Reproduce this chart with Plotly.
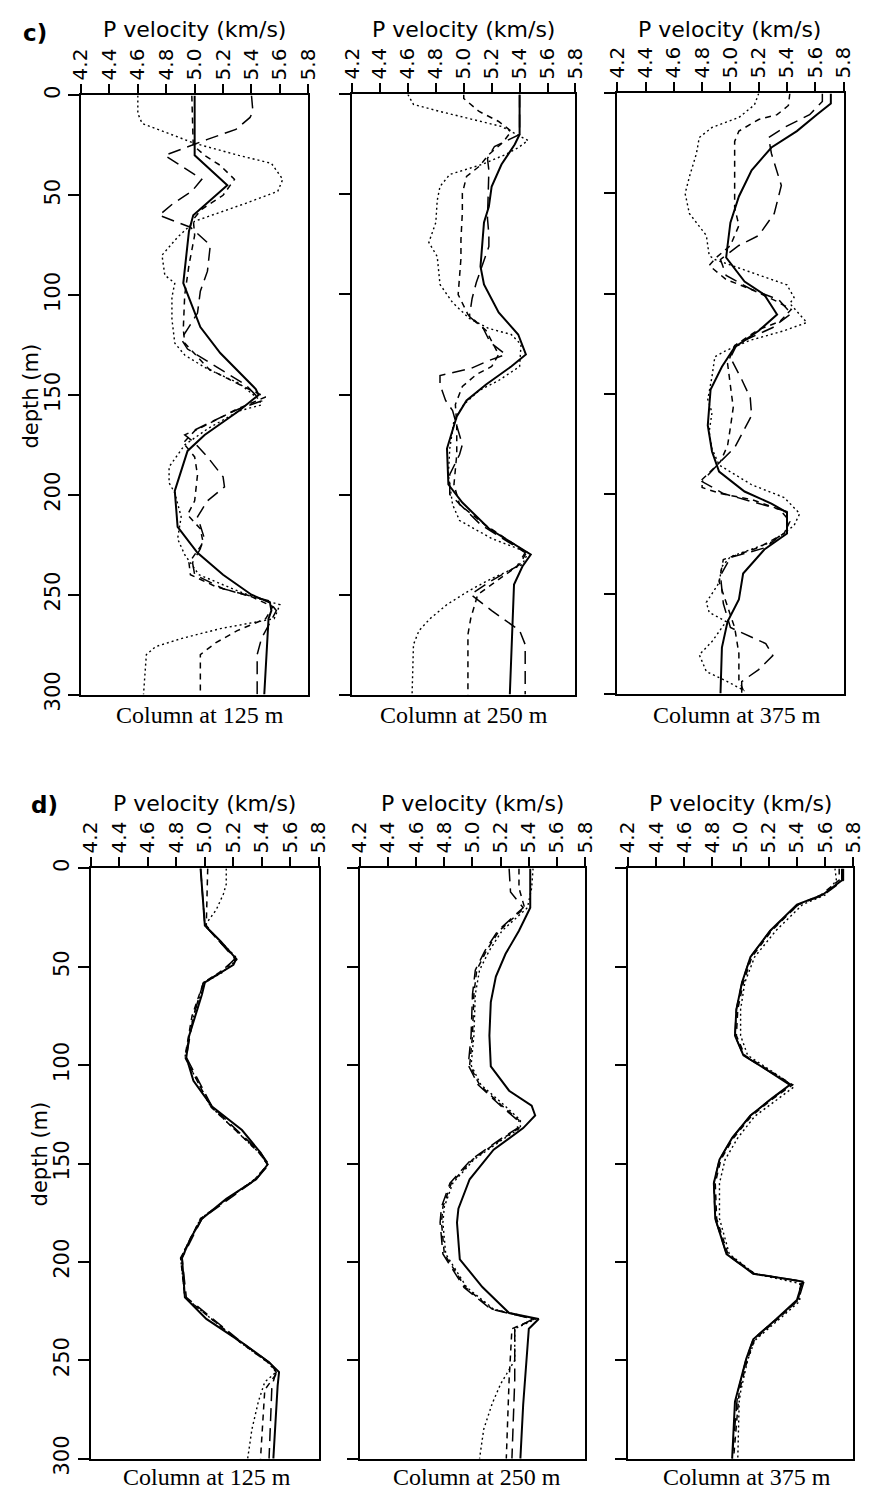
import plotly.graph_objects as go

W, H = 875, 1511

# ---------------- DATA (depth in m, P velocity in km/s) ----------------
vel_ticks = [4.2, 4.4, 4.6, 4.8, 5.0, 5.2, 5.4, 5.6, 5.8]
vel_tick_labels = ["4.2", "4.4", "4.6", "4.8", "5.0", "5.2", "5.4", "5.6", "5.8"]
depth_ticks = [0, 50, 100, 150, 200, 250, 300]
depth_tick_labels = ["0", "50", "100", "150", "200", "250", "300"]
column_labels = ["Column at 125 m", "Column at 250 m", "Column at 375 m"]
row_labels = ["c)", "d)"]

# ---- c) column 125 m
c125_solid_d = [0, 30, 45, 60, 68, 94, 116, 129, 147, 150, 158, 170, 178, 198, 216, 229, 240, 250, 254, 258, 262, 300]
c125_solid_v = [5.0, 5.0, 5.23, 4.99, 4.96, 4.92, 5.04, 5.18, 5.43, 5.45, 5.31, 5.07, 4.95, 4.86, 4.88, 5.02, 5.20, 5.40, 5.53, 5.54, 5.52, 5.49]
c125_dot_d = [0, 9, 14, 19, 24, 30, 34, 42, 48, 54, 63, 71, 80, 90, 94, 101, 112, 124, 130, 137, 144, 152, 155, 158, 167, 175, 186, 194, 199, 211, 222, 230, 240, 248, 252, 255, 262, 267, 272, 276, 280, 300]
c125_dot_v = [4.6, 4.6, 4.63, 4.82, 5.0, 5.31, 5.54, 5.62, 5.585, 5.36, 5.0, 4.88, 4.77, 4.79, 4.86, 4.84, 4.84, 4.86, 4.93, 5.09, 5.31, 5.45, 5.47, 5.31, 5.09, 4.93, 4.82, 4.82, 4.86, 4.905, 4.88, 4.93, 5.03, 5.3, 5.45, 5.6, 5.56, 5.18, 4.905, 4.725, 4.66, 4.64]
c125_dash_d = [0, 25, 30, 35, 42, 50, 57, 62, 70, 85, 100, 117, 124, 137, 146, 151, 157, 168, 174, 181, 190, 203, 210, 217, 224, 234, 240, 246, 251, 256, 262, 268, 274, 280, 300]
c125_dash_v = [4.98, 4.99, 5.07, 5.18, 5.28, 5.2, 5.05, 4.99, 5.0, 4.96, 4.93, 4.92, 4.93, 5.1, 5.35, 5.5, 5.3, 5.0, 4.92, 5.0, 5.02, 5.0, 4.95, 5.04, 5.06, 4.96, 4.97, 5.15, 5.4, 5.55, 5.5, 5.3, 5.15, 5.04, 5.04]
c125_long_d = [0, 8, 11, 17, 22, 27, 30, 35, 42, 48, 54, 60, 66, 75, 88, 98, 109, 117, 122, 127, 135, 145, 153, 157, 163, 170, 174, 181, 191, 196, 203, 211, 221, 227, 234, 240, 247, 253, 258, 265, 272, 280, 300]
c125_long_v = [5.4, 5.41, 5.39, 5.29, 5.09, 4.905, 4.79, 4.9, 5.05, 4.98, 4.85, 4.75, 4.97, 5.11, 5.09, 5.04, 5.02, 4.95, 4.905, 4.95, 5.13, 5.36, 5.47, 5.31, 5.13, 4.93, 5.0, 5.09, 5.2, 5.21, 5.09, 5.02, 5.065, 5.04, 4.985, 5.0, 5.2, 5.52, 5.575, 5.52, 5.47, 5.44, 5.44]

# ---- c) column 250 m
c250_solid_d = [0, 20, 25, 35, 46, 56, 64, 76, 86, 95, 109, 120, 130, 136, 145, 153, 161, 177, 195, 204, 217, 230, 236, 245, 300]
c250_solid_v = [5.4, 5.4, 5.365, 5.27, 5.2, 5.18, 5.145, 5.13, 5.12, 5.145, 5.25, 5.39, 5.445, 5.34, 5.16, 5.02, 4.95, 4.88, 4.89, 4.99, 5.18, 5.48, 5.42, 5.36, 5.33]
c250_dot_d = [0, 5, 8.5, 12.6, 16, 23, 26.6, 30, 35, 40, 46, 53, 64, 74, 81, 95, 104, 112, 117, 120, 125, 136, 143, 148, 155, 163, 177, 190, 205, 213, 222, 229, 235, 242, 248, 255, 262, 268, 275, 300]
c250_dot_v = [4.6, 4.64, 4.83, 5.06, 5.27, 5.46, 5.39, 5.3, 5.13, 4.9, 4.83, 4.81, 4.8, 4.75, 4.81, 4.83, 4.92, 5.04, 5.18, 5.34, 5.41, 5.4, 5.25, 5.11, 5.0, 4.93, 4.9, 4.89, 4.92, 4.97, 5.2, 5.46, 5.42, 5.2, 5.04, 4.88, 4.76, 4.68, 4.64, 4.63]
c250_dash_d = [0, 2, 8.5, 13.5, 18.4, 24, 30, 36, 41, 49.5, 59, 72.5, 82, 100, 110, 118, 130, 136, 140, 146, 155, 165, 180, 195, 205, 215, 229, 235, 240, 250, 262, 270, 300]
c250_dash_v = [5.0, 5.0, 5.11, 5.25, 5.34, 5.28, 5.18, 5.11, 5.02, 4.99, 4.99, 4.98, 4.98, 4.96, 5.03, 5.16, 5.25, 5.2, 5.09, 4.99, 4.94, 4.95, 4.95, 4.93, 4.97, 5.15, 5.45, 5.4, 5.3, 5.1, 5.05, 5.03, 5.03]
c250_long_d = [0, 15, 20, 26, 32, 38, 55, 62, 70, 76, 94, 102, 111, 117, 124, 130, 133, 137, 140.5, 145, 153, 158, 168, 175, 180, 190, 200, 215, 229, 236, 243, 250, 258, 268, 275, 300]
c250_long_v = [5.4, 5.4, 5.4, 5.22, 5.17, 5.18, 5.17, 5.17, 5.18, 5.18, 5.09, 5.06, 5.04, 5.14, 5.19, 5.3, 5.18, 5.05, 4.83, 4.83, 4.87, 4.92, 4.96, 4.99, 4.97, 4.9, 4.9, 5.12, 5.44, 5.38, 5.2, 5.05, 5.2, 5.4, 5.44, 5.44]

# ---- c) column 375 m
c375_solid_d = [0, 5, 10.6, 18.8, 27, 38.4, 51.5, 64.6, 76, 82, 94, 100.6, 110.5, 118.6, 126.8, 136.6, 148, 166, 179, 189, 199, 205, 209.5, 220, 228, 240, 253, 264, 277, 300]
c375_solid_v = [5.71, 5.71, 5.61, 5.47, 5.29, 5.15, 5.06, 5.0, 4.98, 4.97, 5.1, 5.24, 5.33, 5.2, 5.03, 4.94, 4.86, 4.84, 4.87, 4.92, 5.1, 5.29, 5.4, 5.4, 5.24, 5.09, 5.06, 4.98, 4.94, 4.93]
c375_dot_d = [0, 5.7, 12, 17, 22, 30, 41.7, 50, 60, 71, 81, 83, 89, 95.7, 102, 105, 114.5, 118.6, 123.6, 128.5, 131.6, 141.5, 153, 159.5, 169, 177.6, 185.7, 195.6, 202, 210, 216, 224, 231.6, 236.5, 244.6, 254.4, 259.4, 264, 274, 280.6, 289, 293.7, 298.6]
c375_dot_v = [5.2, 5.17, 5.06, 4.87, 4.78, 4.76, 4.71, 4.68, 4.71, 4.83, 4.85, 4.89, 5.13, 5.4, 5.45, 5.42, 5.54, 5.38, 5.13, 4.97, 4.89, 4.87, 4.84, 4.87, 4.85, 4.87, 4.92, 5.15, 5.38, 5.49, 5.45, 5.3, 5.0, 4.94, 4.92, 4.83, 4.85, 4.97, 4.87, 4.78, 4.83, 4.97, 5.1]
c375_dash_d = [0, 6, 10.6, 13, 18.8, 24, 43, 57, 66, 76, 82, 86, 93, 98, 104, 108, 114, 118, 126, 135, 146, 157, 167, 176, 184, 193, 197, 200, 203, 208, 214, 220, 227, 233, 244, 254, 267, 280, 293, 300]
c375_dash_v = [5.42, 5.41, 5.33, 5.2, 5.06, 5.03, 5.03, 5.03, 5.06, 5.0, 4.9, 4.85, 4.97, 5.15, 5.33, 5.43, 5.35, 5.2, 5.03, 4.98, 5.0, 5.02, 5.0, 4.98, 4.93, 4.8, 4.8, 4.93, 5.15, 5.35, 5.42, 5.38, 5.2, 4.95, 4.92, 4.97, 5.03, 5.06, 5.06, 5.1]
c375_long_d = [0, 4, 10.6, 17, 22, 30, 46, 60, 71, 76, 83, 91, 98, 103, 110, 117, 125, 132, 143, 152, 161, 168, 177, 184, 194, 200, 205, 209, 218, 227, 232, 241, 255, 267, 275, 281, 288, 294, 300]
c375_long_v = [5.65, 5.65, 5.56, 5.38, 5.27, 5.29, 5.36, 5.31, 5.2, 5.06, 4.93, 4.97, 5.15, 5.34, 5.43, 5.3, 5.05, 5.0, 5.08, 5.14, 5.15, 5.1, 5.03, 4.93, 4.8, 4.95, 5.2, 5.4, 5.4, 5.25, 5.0, 4.93, 4.95, 5.0, 5.25, 5.3, 5.2, 5.08, 5.08]

# ---- d) column 125 m
d125_solid_d = [0, 29, 37, 46, 49, 53, 58, 64, 75, 85, 96, 108, 121, 133, 144.5, 150.5, 158, 168, 178, 188, 198, 218, 229, 241, 251, 256, 263, 300]
d125_solid_v = [4.97, 5.0, 5.11, 5.22, 5.2, 5.11, 5.0, 4.98, 4.93, 4.89, 4.87, 4.92, 5.05, 5.26, 5.39, 5.44, 5.36, 5.15, 4.98, 4.9, 4.84, 4.86, 5.01, 5.26, 5.45, 5.52, 5.51, 5.48]
d125_dot_d = [0, 8, 13, 21, 29, 37, 46, 53, 58, 75, 96, 121, 144.5, 150.5, 158, 178, 198, 218, 241, 251, 256, 261, 271, 285, 300]
d125_dot_v = [5.15, 5.15, 5.13, 5.08, 5.0, 5.11, 5.23, 5.12, 5.0, 4.92, 4.86, 5.04, 5.38, 5.44, 5.35, 4.97, 4.83, 4.86, 5.25, 5.44, 5.5, 5.42, 5.375, 5.33, 5.3]
d125_dash_d = [0, 29, 37, 46, 53, 58, 75, 96, 121, 144.5, 150.5, 158, 178, 198, 218, 241, 251, 256, 265, 300]
d125_dash_v = [5.02, 5.01, 5.1, 5.22, 5.1, 4.99, 4.91, 4.86, 5.04, 5.38, 5.44, 5.35, 4.97, 4.83, 4.86, 5.25, 5.44, 5.51, 5.42, 5.39]
d125_long_d = [0, 29, 37, 46, 53, 58, 75, 96, 121, 144.5, 150.5, 158, 178, 198, 218, 241, 251, 256, 263, 300]
d125_long_v = [4.97, 5.0, 5.1, 5.21, 5.11, 4.99, 4.92, 4.87, 5.05, 5.39, 5.45, 5.36, 4.98, 4.84, 4.87, 5.26, 5.45, 5.5, 5.47, 5.45]

# ---- d) column 250 m
d250_solid_d = [0, 20, 31.7, 43.4, 55, 68, 85, 100.6, 113, 120.6, 125.6, 132, 143, 158, 173, 180, 198.7, 212.8, 226, 229, 234, 272.5, 300]
d250_solid_v = [5.41, 5.41, 5.33, 5.235, 5.166, 5.13, 5.12, 5.13, 5.26, 5.42, 5.445, 5.36, 5.15, 4.98, 4.9, 4.89, 4.91, 5.07, 5.26, 5.47, 5.4, 5.36, 5.34]
d250_dot_d = [0, 10, 20, 31.7, 41.7, 51.7, 64, 85, 100, 110, 120, 128, 132, 138, 148, 160, 172, 180, 196, 213, 224, 229, 234, 250, 262, 272, 285, 300]
d250_dot_v = [5.43, 5.42, 5.39, 5.21, 5.12, 5.05, 5.02, 5.01, 4.99, 5.06, 5.22, 5.34, 5.34, 5.21, 5.01, 4.86, 4.8, 4.79, 4.81, 4.96, 5.15, 5.45, 5.3, 5.3, 5.2, 5.14, 5.08, 5.05]
d250_dash_d = [0, 10, 20, 31.7, 41.7, 51.7, 64, 85, 100, 110, 120, 128, 132, 138, 148, 160, 172, 180, 196, 213, 224, 229, 234, 260, 300]
d250_dash_v = [5.33, 5.33, 5.37, 5.19, 5.1, 5.03, 5.01, 5.0, 4.98, 5.05, 5.2, 5.33, 5.33, 5.2, 5.0, 4.85, 4.79, 4.78, 4.8, 4.95, 5.14, 5.44, 5.28, 5.26, 5.24]
d250_long_d = [0, 12, 20, 31.7, 41.7, 51.7, 64, 85, 100, 110, 120, 128, 132, 138, 148, 160, 172, 180, 196, 213, 224, 229, 234, 260, 300]
d250_long_v = [5.26, 5.27, 5.36, 5.18, 5.09, 5.02, 5.0, 4.99, 4.97, 5.04, 5.19, 5.32, 5.32, 5.19, 4.99, 4.84, 4.78, 4.77, 4.79, 4.94, 5.13, 5.43, 5.3, 5.3, 5.28]

# ---- d) column 375 m
d375_solid_d = [0, 6, 13.5, 18.4, 31.7, 45, 58, 71.6, 85, 95, 103, 110, 117, 125.6, 137, 148, 160, 178, 196, 206, 210, 219.4, 229.3, 239.3, 249.3, 266, 271, 300]
d375_solid_v = [5.72, 5.72, 5.58, 5.4, 5.21, 5.07, 5.01, 4.97, 4.96, 5.02, 5.2, 5.35, 5.22, 5.07, 4.94, 4.85, 4.81, 4.82, 4.9, 5.09, 5.44, 5.4, 5.25, 5.09, 5.04, 4.98, 4.96, 4.94]
d375_dot_d = [0, 6, 13.5, 18.4, 31.7, 45, 58, 71.6, 85, 95, 103, 111, 118, 126, 137, 148, 160, 178, 196, 206, 211, 220, 230, 240, 250, 266, 271, 300]
d375_dot_v = [5.67, 5.68, 5.6, 5.44, 5.25, 5.1, 5.03, 5.0, 5.0, 5.05, 5.22, 5.38, 5.25, 5.1, 4.98, 4.89, 4.85, 4.85, 4.92, 5.1, 5.42, 5.42, 5.26, 5.1, 5.05, 5.0, 4.99, 4.98]
d375_dash_d = [0, 6, 13.5, 18.4, 31.7, 45, 58, 71.6, 85, 95, 103, 110, 117, 125.6, 137, 148, 160, 178, 196, 206, 210, 219.4, 229.3, 239.3, 249.3, 266, 300]
d375_dash_v = [5.7, 5.7, 5.57, 5.41, 5.22, 5.08, 5.02, 4.98, 4.97, 5.03, 5.21, 5.37, 5.23, 5.08, 4.95, 4.86, 4.82, 4.83, 4.91, 5.1, 5.43, 5.41, 5.26, 5.1, 5.05, 4.99, 4.95]
d375_long_d = [0, 6, 13.5, 18.4, 31.7, 45, 58, 71.6, 85, 95, 103, 110, 117, 125.6, 137, 148, 160, 178, 196, 206, 210, 219.4, 229.3, 239.3, 249.3, 266, 300]
d375_long_v = [5.73, 5.73, 5.59, 5.41, 5.21, 5.07, 5.01, 4.97, 4.96, 5.02, 5.2, 5.36, 5.22, 5.07, 4.94, 4.85, 4.81, 4.82, 4.9, 5.09, 5.45, 5.41, 5.25, 5.09, 5.04, 4.98, 4.94]

panels = [
    [(c125_solid_d, c125_solid_v), (c125_dot_d, c125_dot_v), (c125_dash_d, c125_dash_v), (c125_long_d, c125_long_v)],
    [(c250_solid_d, c250_solid_v), (c250_dot_d, c250_dot_v), (c250_dash_d, c250_dash_v), (c250_long_d, c250_long_v)],
    [(c375_solid_d, c375_solid_v), (c375_dot_d, c375_dot_v), (c375_dash_d, c375_dash_v), (c375_long_d, c375_long_v)],
    [(d125_solid_d, d125_solid_v), (d125_dot_d, d125_dot_v), (d125_dash_d, d125_dash_v), (d125_long_d, d125_long_v)],
    [(d250_solid_d, d250_solid_v), (d250_dot_d, d250_dot_v), (d250_dash_d, d250_dash_v), (d250_long_d, d250_long_v)],
    [(d375_solid_d, d375_solid_v), (d375_dot_d, d375_dot_v), (d375_dash_d, d375_dash_v), (d375_long_d, d375_long_v)],
]

# ---------------- LAYOUT (pixel boxes of each panel) ----------------
boxes = [  # x0, x1, y0(top), y1(bottom) in px
    (70, 304, 87, 697), (349, 579, 86, 697), (622, 855, 85, 696),
    (80, 315, 874, 1475), (357, 589, 874, 1475), (633, 865, 874, 1475),
]
styles = [
    dict(color="black", width=2.0, dash="solid"),
    dict(color="black", width=1.4, dash="2px,3px"),
    dict(color="black", width=1.5, dash="6px,5px"),
    dict(color="black", width=1.5, dash="13px,7px"),
]

fig = go.Figure()
layout = dict(
    width=W, height=H, margin=dict(l=0, r=0, t=0, b=0),
    paper_bgcolor="white", plot_bgcolor="white", showlegend=False,
    font=dict(family="DejaVu Sans", color="black"),
)

def fx(px):
    return px / W

def fy(py):
    return 1 - py / H

for i, (curves, box) in enumerate(zip(panels, boxes)):
    n = "" if i == 0 else str(i + 1)
    for (d, v), st in zip(curves, styles):
        fig.add_trace(go.Scatter(x=v, y=d, mode="lines", line=st,
                                 xaxis="x" + n, yaxis="y" + n, hoverinfo="skip"))
    x0, x1, y0, y1 = box
    layout["xaxis" + n] = dict(
        domain=[fx(x0), fx(x1)], anchor="y" + n, side="top",
        range=[4.2, 5.8], tickvals=vel_ticks, ticktext=vel_tick_labels,
        tickangle=-90, ticks="outside", ticklen=9, tickwidth=1.5, tickcolor="black",
        tickfont=dict(family="DejaVu Sans", size=20, color="black"),
        showline=True, linecolor="black", linewidth=2, mirror=True,
        showgrid=False, zeroline=False, fixedrange=True,
    )
    layout["yaxis" + n] = dict(
        domain=[fy(y1), fy(y0)], anchor="x" + n,
        range=[300, 0], tickvals=depth_ticks, ticktext=depth_tick_labels,
        showticklabels=(i % 3 == 0),
        tickangle=-90, ticks="outside", ticklen=11, tickwidth=1.5, tickcolor="black",
        tickfont=dict(family="DejaVu Sans", size=21, color="black"),
        showline=True, linecolor="black", linewidth=2, mirror=True,
        showgrid=False, zeroline=False, fixedrange=True,
    )

annotations = []
title_pos = [(187, 20), (464, 20), (738, 20), (197, 808), (473, 808), (749, 808)]
for (cx, cy) in title_pos:
    annotations.append(dict(text="P velocity (km/s)", x=fx(cx), y=fy(cy), xref="paper", yref="paper",
                            showarrow=False, xanchor="center", yanchor="middle",
                            font=dict(family="DejaVu Sans", size=22, color="black")))
col_pos = [(193, 718), (464, 718), (745, 718), (200, 1494), (478, 1494), (756, 1494)]
for k, (cx, cy) in enumerate(col_pos):
    annotations.append(dict(text=column_labels[k % 3], x=fx(cx), y=fy(cy), xref="paper", yref="paper",
                            showarrow=False, xanchor="center", yanchor="middle",
                            font=dict(family="Liberation Serif", size=24, color="black")))
for lab, (cx, cy) in zip(row_labels, [(23, 23), (32, 809)]):
    annotations.append(dict(text="<b>" + lab + "</b>", x=fx(cx), y=fy(cy), xref="paper", yref="paper",
                            showarrow=False, xanchor="center", yanchor="middle",
                            font=dict(family="DejaVu Sans", size=23, color="black")))
for (cx, cy) in [(18, 393), (28, 1165)]:
    annotations.append(dict(text="depth (m)", x=fx(cx), y=fy(cy), xref="paper", yref="paper",
                            showarrow=False, xanchor="center", yanchor="middle", textangle=-90,
                            font=dict(family="DejaVu Sans", size=21, color="black")))
layout["annotations"] = annotations

fig.update_layout(**layout)
fig.write_html("out.html")
